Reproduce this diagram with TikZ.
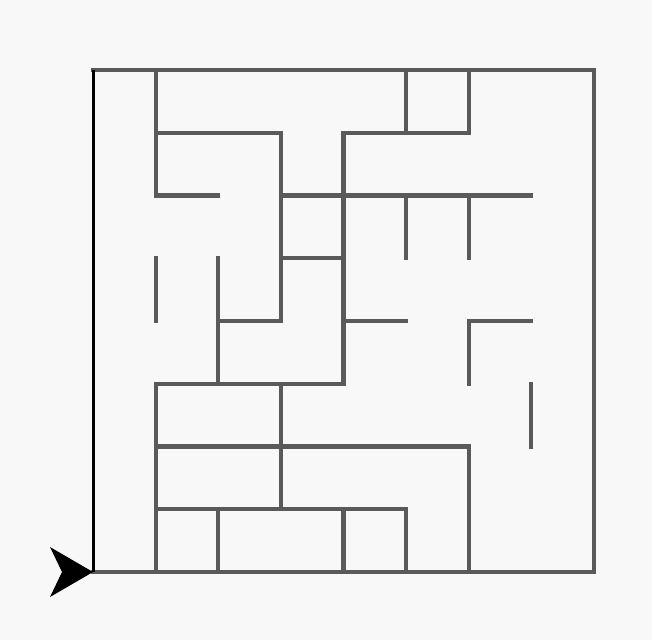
\documentclass[tikz,border=0pt]{standalone}
\definecolor{bg}{HTML}{F8F8F8}
\definecolor{wall}{HTML}{5A5A5A}
\begin{document}
\begin{tikzpicture}[x=1pt,y=-1pt,
  wallline/.style={draw=wall,line width=4.2pt,line cap=rect},
  startwall/.style={draw=black,line width=3pt}]
\fill[bg] (0,0) rectangle (652,640);
\useasboundingbox (0,0) rectangle (652,640);
\begin{scope}[shift={(93,70)},x=62.625pt,y=-62.75pt]
% outer walls
\draw[wallline] (0,0) -- (8,0) -- (8,8) -- (0,8);
% interior walls
\draw[wallline] (1,0) -- (1,2) -- (2,2);
\draw[wallline] (1,1) -- (3,1) -- (3,4) -- (2,4);
\draw[wallline] (2,3) -- (2,5);
\draw[wallline] (1,5) -- (4,5);
\draw[wallline] (1,3) -- (1,4);
\draw[wallline] (3,2) -- (7,2);
\draw[wallline] (3,3) -- (4,3);
\draw[wallline] (4,5) -- (4,1) -- (6,1);
\draw[wallline] (5,0) -- (5,1);
\draw[wallline] (6,0) -- (6,1);
\draw[wallline] (5,2) -- (5,3);
\draw[wallline] (6,2) -- (6,3);
\draw[wallline] (4,4) -- (5,4);
\draw[wallline] (6,5) -- (6,4) -- (7,4);
\draw[wallline] (7,5) -- (7,6);
\draw[wallline] (1,5) -- (1,8);
\draw[wallline] (1,6) -- (6,6) -- (6,8);
\draw[wallline] (3,5) -- (3,7);
\draw[wallline] (1,7) -- (5,7) -- (5,8);
\draw[wallline] (2,7) -- (2,8);
\draw[wallline] (4,7) -- (4,8);
\draw[startwall] (0,0) -- (0,8);
\coordinate (tip) at (0,8);
\end{scope}
% turtle arrow
\fill[black] (tip) -- (50,547) -- (62,572) -- (50,597) -- cycle;
\end{tikzpicture}
\end{document}
